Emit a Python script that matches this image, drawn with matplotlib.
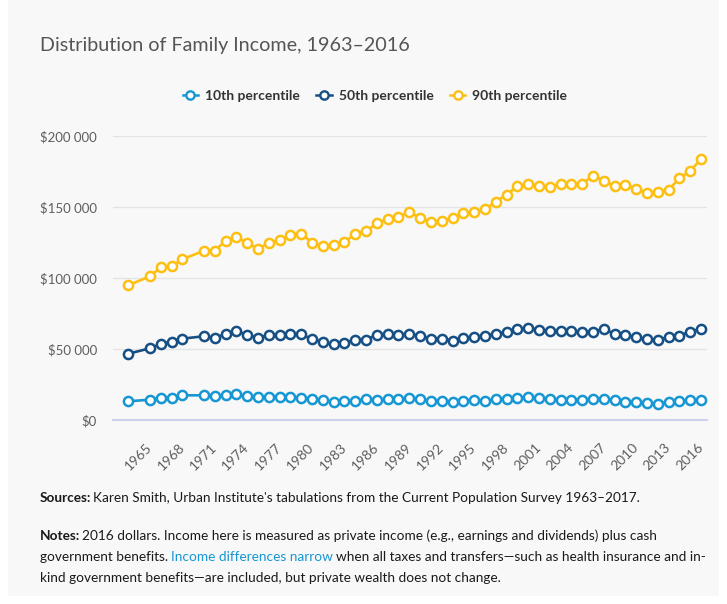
import matplotlib
matplotlib.use("Agg")
import matplotlib.pyplot as plt
from matplotlib.lines import Line2D
from matplotlib.patches import Rectangle
from matplotlib.ticker import FuncFormatter

plt.rcParams['font.family'] = ['Lato', 'DejaVu Sans']

# ---- data (2016 dollars) ----
years = [1963, 1965, 1966, 1967, 1968] + list(range(1970, 2017))

p10 = [13.4, 14.5, 15.9, 15.9, 17.6,
       17.6, 16.9, 17.6, 18.5, 16.9, 16.6, 16.6, 16.6, 16.6, 15.9,
       15.0, 14.3, 13.1, 13.8, 13.8, 14.8, 14.3, 14.8, 14.8, 15.5,
       14.8, 13.8, 13.8, 13.1, 13.8, 14.5, 13.8, 14.8, 15.2, 15.5,
       16.2, 15.5, 15.0, 14.5, 14.5, 14.5, 15.2, 15.2, 14.3, 13.1,
       12.9, 12.2, 11.7, 13.1, 13.6, 14.1, 14.5]

p50 = [46.9, 50.7, 53.7, 55.4, 57.5,
       59.2, 58.2, 60.6, 63.1, 59.9, 58.2, 59.9, 60.1, 60.8, 60.6,
       57.1, 55.1, 53.5, 54.4, 56.8, 56.8, 60.3, 61.0, 60.1, 61.0,
       59.4, 57.3, 57.5, 56.1, 57.7, 58.9, 59.6, 60.8, 62.4, 64.3,
       65.2, 63.6, 62.9, 62.9, 62.9, 62.2, 62.2, 64.3, 60.8, 60.1,
       58.5, 57.0, 56.8, 58.5, 59.6, 62.4, 64.5]

p90 = [95.1, 101.4, 107.7, 108.5, 113.4,
       119.4, 119.4, 126.5, 128.9, 125.1, 120.6, 124.9, 127.2, 130.5, 131.4,
       125.1, 122.5, 123.2, 125.6, 131.2, 133.3, 138.7, 141.8, 143.4, 146.5,
       142.7, 139.4, 140.1, 142.7, 146.2, 146.5, 148.8, 153.8, 159.0, 164.8,
       166.6, 165.2, 164.1, 166.6, 166.2, 166.6, 172.3, 168.7, 165.0, 165.9,
       162.7, 160.3, 161.0, 162.4, 170.4, 175.8, 183.8]

series_names = ["10th percentile", "50th percentile", "90th percentile"]
series_values = [p10, p50, p90]
series_colors = ["#1696d2", "#164f84", "#fdbf11"]

tick_years = list(range(1965, 2017, 3))
y_ticks = [0, 50000, 100000, 150000, 200000]

# ---- figure ----
W, H = 727, 604
fig = plt.figure(figsize=(W / 100, H / 100), dpi=100, facecolor="white")
fig.patches.append(Rectangle((8 / W, 8 / H), 711 / W, 1 - 8 / H,
                             transform=fig.transFigure, facecolor="#f8f8f8",
                             edgecolor="none", zorder=-10))

ax = fig.add_axes([113 / W, 1 - 420.3 / H, (707 - 113) / W, (420.3 - 136.3) / H])
ax.set_facecolor("none")

for name, vals, col in zip(series_names, series_values, series_colors):
    ax.plot(years, [v * 1000 for v in vals], color=col, lw=1.9, marker="o",
            markersize=6.6, markerfacecolor="white", markeredgecolor=col,
            markeredgewidth=1.8, clip_on=False, zorder=3, label=name)

ax.set_xlim(1961.58, 2016.55)
ax.set_ylim(0, 200000)
ax.set_yticks(y_ticks)
ax.yaxis.set_major_formatter(FuncFormatter(
    lambda v, p: "$" + f"{int(v):,}".replace(",", " ")))
ax.set_xticks(tick_years)
ax.set_xticklabels([str(y) for y in tick_years], rotation=45, ha="right",
                   va="center", rotation_mode="anchor")

ax.grid(axis="y", color="#e4e4e4", lw=1)
ax.set_axisbelow(True)
for s in ["top", "right", "left"]:
    ax.spines[s].set_visible(False)
ax.spines["bottom"].set_color("#cbd3ec")
ax.spines["bottom"].set_linewidth(1.5)
ax.tick_params(axis="y", length=0, pad=11.5, labelsize=9.5, labelcolor="#5e5e5e")
ax.tick_params(axis="x", length=0, pad=18, labelsize=10, labelcolor="#5e5e5e")

# ---- title and legend ----
fig.text(40 / W, 1 - 46 / H, "Distribution of Family Income, 1963\u20132016",
         fontsize=14.2, color="#555555", va="center", ha="left")

handles = [Line2D([0], [0], color=c, lw=1.8, marker="o", markersize=6,
                  markerfacecolor="white", markeredgecolor=c,
                  markeredgewidth=1.7) for c in series_colors]
leg = fig.legend(handles, series_names, loc="center", ncol=3,
                 bbox_to_anchor=(375 / W, 1 - 96 / H), frameon=False,
                 handlelength=1.1, handletextpad=0.5, columnspacing=1.2,
                 prop={"weight": "bold", "size": 10})
for t in leg.get_texts():
    t.set_color("#333333")

# ---- footer text ----
renderer = fig.canvas.get_renderer()


def rich_line(x_px, y_px, parts, size=9.8, space=3.2):
    x = x_px
    for s, weight, color in parts:
        if s.startswith(" "):
            x += space
        t = fig.text(x / W, 1 - y_px / H, s.strip(" "), fontsize=size,
                     fontweight=weight, color=color, va="center", ha="left")
        w = t.get_window_extent(renderer).width
        # bold runs carry a little extra side bearing in their extent
        x += w - (1.5 if weight == "bold" else 0)
        if s.endswith(" "):
            x += space


ink = "#1a1a1a"
rich_line(40, 498, [("Sources:", "bold", ink),
                    (" Karen Smith, Urban Institute's tabulations from the Current "
                     "Population Survey 1963\u20132017.", "normal", ink)])
rich_line(40, 536, [("Notes:", "bold", ink),
                    (" 2016 dollars. Income here is measured as private income "
                     "(e.g., earnings and dividends) plus cash", "normal", ink)])
rich_line(40, 557, [("government benefits. ", "normal", ink),
                    ("Income differences narrow", "normal", "#1696d2"),
                    (" when all taxes and transfers\u2014such as health insurance "
                     "and in-", "normal", ink)])
rich_line(40, 578, [("kind government benefits\u2014are included, but private "
                     "wealth does not change.", "normal", ink)])

fig.savefig("out.png", dpi=100, facecolor=fig.get_facecolor())
